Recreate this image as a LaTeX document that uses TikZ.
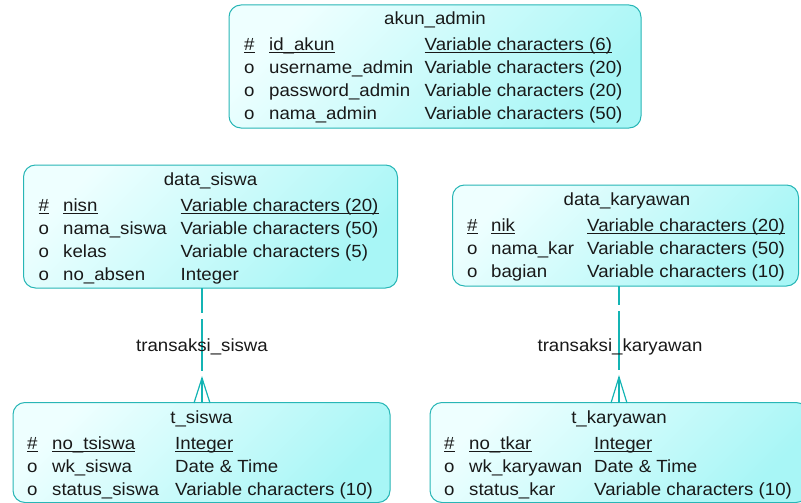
\documentclass[tikz,border=0pt]{standalone}
\usepackage{fontspec}
\setmainfont[FakeStretch=1.06]{Liberation Sans}
\usetikzlibrary{calc}
\definecolor{bordc}{RGB}{40,182,182}
\definecolor{linec}{RGB}{20,180,180}
\definecolor{fillA}{RGB}{238,255,255}
\definecolor{fillB}{RGB}{168,246,246}
\newcommand\erfont{\fontsize{17.6}{21}\selectfont}
\tikzset{
  tbl/.style={draw=bordc, line width=1pt, rounded corners=12pt, shading=axis,
    top color=fillA, bottom color=fillB, shading angle=45, inner sep=0pt, outer sep=0pt},
  txt/.style={inner sep=0pt, anchor=base west, font=\erfont, text=black!90},
  ttl/.style={inner sep=0pt, anchor=base, font=\erfont, text=black!90},
  rel/.style={draw=linec, line width=2.8pt},
  foot/.style={draw=linec, line width=1.2pt},
  ulin/.style={draw=black!90, line width=1.1pt},
}
% row: prefix, baseline y, x#, xname, xtype, sym, name, type, underline flag
\newcommand\erow[9]{%
  \node[txt] (#1s) at (#3,#2) {#6};
  \node[txt] (#1n) at (#4,#2) {#7};
  \node[txt] (#1t) at (#5,#2) {#8};
  \ifx#9u
    \draw[ulin] ([yshift=-2.3pt]#1s.base west) -- ([yshift=-2.3pt]#1s.base east);
    \draw[ulin] ([yshift=-2.3pt]#1n.base west) -- ([yshift=-2.3pt]#1n.base east);
    \draw[ulin] ([yshift=-2.3pt]#1t.base west) -- ([yshift=-2.3pt]#1t.base east);
  \fi
}
\begin{document}
\begin{tikzpicture}[x=1pt,y=-1pt]
\useasboundingbox (0,0) rectangle (801,503);

% ---------- akun_admin
\node[tbl, minimum width=412pt, minimum height=123pt] (akun) at (435,66.5) {};
\node[ttl] (akunT) at (435,25) {akun\_admin};
\erow{aa}{50.5}{244}{269}{424.5}{\#}{id\_akun}{Variable characters (6)}{u}
\erow{ab}{73.5}{244}{269}{424.5}{o}{username\_admin}{Variable characters (20)}{n}
\erow{ac}{96.5}{244}{269}{424.5}{o}{password\_admin}{Variable characters (20)}{n}
\erow{ad}{119.5}{244}{269}{424.5}{o}{nama\_admin}{Variable characters (50)}{n}

% ---------- data_siswa
\node[tbl, minimum width=374pt, minimum height=123pt] (siswa) at (210.5,226.5) {};
\node[ttl] (siswaT) at (210.5,185.5) {data\_siswa};
\erow{sa}{211.5}{38.5}{63}{180.5}{\#}{nisn}{Variable characters (20)}{u}
\erow{sb}{234.5}{38.5}{63}{180.5}{o}{nama\_siswa}{Variable characters (50)}{n}
\erow{sc}{257.5}{38.5}{63}{180.5}{o}{kelas}{Variable characters (5)}{n}
\erow{sd}{280.5}{38.5}{63}{180.5}{o}{no\_absen}{Integer}{n}

% ---------- data_karyawan
\node[tbl, minimum width=346pt, minimum height=101pt] (kar) at (625.5,235.5) {};
\node[ttl] (karT) at (627,205) {data\_karyawan};
\erow{ka}{231}{467}{491}{587}{\#}{nik}{Variable characters (20)}{u}
\erow{kb}{254}{467}{491}{587}{o}{nama\_kar}{Variable characters (50)}{n}
\erow{kc}{277}{467}{491}{587}{o}{bagian}{Variable characters (10)}{n}

% ---------- t_siswa
\node[tbl, minimum width=377pt, minimum height=100pt] (tsis) at (201.5,452.5) {};
\node[ttl] (tsisT) at (201.5,423.5) {t\_siswa};
\erow{ta}{449}{27}{52}{175}{\#}{no\_tsiswa}{Integer}{u}
\erow{tb}{472}{27}{52}{175}{o}{wk\_siswa}{Date \& Time}{n}
\erow{tc}{495}{27}{52}{175}{o}{status\_siswa}{Variable characters (10)}{n}

% ---------- t_karyawan
\node[tbl, minimum width=378pt, minimum height=100pt] (tkar) at (619,452.5) {};
\node[ttl] (tkarT) at (619,423.5) {t\_karyawan};
\erow{ua}{449}{444}{469}{594}{\#}{no\_tkar}{Integer}{u}
\erow{ub}{472}{444}{469}{594}{o}{wk\_karyawan}{Date \& Time}{n}
\erow{uc}{495}{444}{469}{594}{o}{status\_kar}{Variable characters (10)}{n}

% ---------- relationship transaksi_siswa
\coordinate (r1a) at (202,288);
\coordinate (r1b) at (202,313);
\coordinate (r1c) at (202,319);
\coordinate (r1d) at (202,371);
\coordinate (r1e) at (202,378);
\coordinate (r1f) at (202,403);
\draw[rel] (r1a) -- (r1b);
\draw[rel] (r1c) -- (r1d);
\draw[rel] (r1e) -- (r1f);
\draw[foot] ($(r1f)+(-8,0)$) -- (r1e) -- ($(r1f)+(8,0)$);
\node[ttl] (rel1) at (202,351) {transaksi\_siswa};

% ---------- relationship transaksi_karyawan
\coordinate (r2a) at (619,286);
\coordinate (r2b) at (619,305);
\coordinate (r2c) at (619,311);
\coordinate (r2d) at (619,370);
\coordinate (r2e) at (619,377);
\coordinate (r2f) at (619,403);
\draw[rel] (r2a) -- (r2b);
\draw[rel] (r2c) -- (r2d);
\draw[rel] (r2e) -- (r2f);
\draw[foot] ($(r2f)+(-8,0)$) -- (r2e) -- ($(r2f)+(8,0)$);
\node[ttl] (rel2) at (620,351.5) {transaksi\_karyawan};
\end{tikzpicture}
\end{document}
